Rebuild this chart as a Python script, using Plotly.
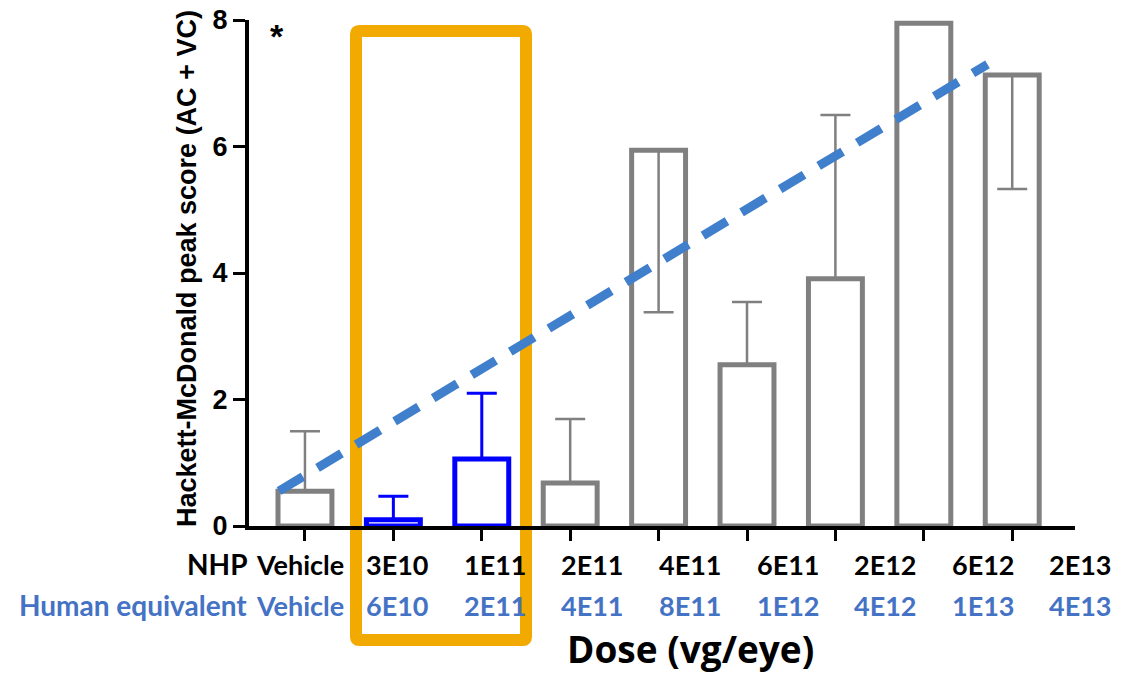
import plotly.graph_objects as go

# ---------------- data ----------------
nhp_doses = ["Vehicle", "3E10", "1E11", "2E11", "4E11", "6E11", "2E12", "6E12", "2E13"]
human_doses = ["Vehicle", "6E10", "2E11", "4E11", "8E11", "1E12", "4E12", "1E13", "4E13"]
peak_score = [0.55, 0.1, 1.06, 0.68, 5.94, 2.55, 3.91, 7.95, 7.13]
err_plus = [0.95, 0.37, 1.04, 1.01, 0.0, 0.99, 2.59, 0.0, 0.0]
err_minus = [0.0, 0.0, 0.0, 0.0, 2.56, 0.0, 0.0, 0.0, 1.80]
highlighted = ["3E10", "1E11"]
trend_x = [-0.294, 7.72]
trend_y = [0.553, 7.30]
y_ticks = [0, 2, 4, 6, 8]

GRAY = "#808080"
BLUE = "#0000FF"
TREND = "#3F7FCC"
ORANGE = "#F2A900"
LABEL_BLUE = "#4472C4"

# plot area in pixels (for placing annotations)
L, R, T, B = 249, 1075, 20, 526
W, H = 1134, 675


def px(xp):
    return (xp - L) / (R - L)


def py(yp):
    return (B - yp) / (B - T)


fig = go.Figure()

for is_hl, color, ethick in [(False, GRAY, 2.5), (True, BLUE, 3)]:
    idx = [i for i, d in enumerate(nhp_doses) if (d in highlighted) == is_hl]
    fig.add_trace(go.Bar(
        x=idx,
        y=[peak_score[i] for i in idx],
        width=0.61,
        marker=dict(color="rgba(0,0,0,0)", line=dict(color=color, width=5)),
        error_y=dict(type="data", symmetric=False,
                     array=[err_plus[i] for i in idx],
                     arrayminus=[err_minus[i] for i in idx],
                     color=color, thickness=ethick, width=15),
        showlegend=False,
        cliponaxis=False,
    ))

fig.add_trace(go.Scatter(
    x=trend_x, y=trend_y, mode="lines",
    line=dict(color=TREND, width=9, dash="28px,17px"),
    showlegend=False, cliponaxis=False,
))

fig.update_layout(
    width=W, height=H,
    autosize=False,
    margin=dict(l=L, r=W - R, t=T, b=H - B, pad=0, autoexpand=False),
    paper_bgcolor="white",
    plot_bgcolor="rgba(0,0,0,0)",
    barmode="overlay",
    xaxis=dict(
        range=[-0.633, 8.71],
        tickvals=list(range(len(nhp_doses))),
        showticklabels=False,
        showline=True, linecolor="black", linewidth=4,
        ticks="outside", ticklen=11, tickwidth=3, tickcolor="black",
        showgrid=False, zeroline=False, automargin=False,
    ),
    yaxis=dict(
        range=[0, 8],
        tickvals=y_ticks,
        ticktext=[f"<b>{v}</b>" for v in y_ticks],
        tickfont=dict(family="Liberation Sans, Arial", size=27, color="black"),
        showline=True, linecolor="black", linewidth=4,
        ticks="outside", ticklen=12, tickwidth=3, tickcolor="black",
        showgrid=False, zeroline=False, automargin=False,
    ),
    font=dict(family="Lato, Liberation Sans", color="black"),
)

# orange highlight box with slightly rounded corners
x0, x1, y0, y1 = px(356), px(526), py(640), py(31)
rx, ry = 3 / (R - L), 3 / (B - T)
path = (f"M {x0 + rx},{y1} L {x1 - rx},{y1} Q {x1},{y1} {x1},{y1 - ry} "
        f"L {x1},{y0 + ry} Q {x1},{y0} {x1 - rx},{y0} "
        f"L {x0 + rx},{y0} Q {x0},{y0} {x0},{y0 + ry} "
        f"L {x0},{y1 - ry} Q {x0},{y1} {x0 + rx},{y1} Z")
fig.add_shape(type="path", xref="paper", yref="paper", path=path,
              line=dict(color=ORANGE, width=12), layer="below")

ann = []
# y-axis title
ann.append(dict(text="<b>Hackett-McDonald peak score (AC + VC)</b>", textangle=-90,
                xref="paper", yref="paper", x=px(187), y=py(269),
                xanchor="center", yanchor="middle", showarrow=False,
                font=dict(family="Liberation Sans, Arial", size=27, color="black")))
# asterisk
ann.append(dict(text="<b>*</b>", xref="paper", yref="paper", x=px(277), y=py(36),
                xanchor="center", yanchor="middle", showarrow=False,
                font=dict(family="Liberation Sans, Arial", size=34, color="black")))
# row headers
row1_y, row2_y = py(564), py(605)
ann.append(dict(text="<b>NHP</b>", xref="paper", yref="paper", x=px(249), y=row1_y,
                xanchor="right", yanchor="middle", showarrow=False,
                font=dict(family="Lato", size=28, color="black")))
ann.append(dict(text="<b>Human equivalent</b>", xref="paper", yref="paper", x=px(249), y=row2_y,
                xanchor="right", yanchor="middle", showarrow=False,
                font=dict(family="Lato", size=28, color=LABEL_BLUE)))
for i, (a, b) in enumerate(zip(nhp_doses, human_doses)):
    xc = px(300 + 97.6 * i)
    ann.append(dict(text=f"<b>{a}</b>", xref="paper", yref="paper", x=xc, y=row1_y,
                    xanchor="center", yanchor="middle", showarrow=False,
                    font=dict(family="Lato", size=27, color="black")))
    ann.append(dict(text=f"<b>{b}</b>", xref="paper", yref="paper", x=xc, y=row2_y,
                    xanchor="center", yanchor="middle", showarrow=False,
                    font=dict(family="Lato", size=27, color=LABEL_BLUE)))
# x title
ann.append(dict(text="<b>Dose (vg/eye)</b>", xref="paper", yref="paper", x=px(690), y=py(648),
                xanchor="center", yanchor="middle", showarrow=False,
                font=dict(family="Open Sans", size=37, color="black")))
fig.update_layout(annotations=ann)

fig.write_html("out.html")
